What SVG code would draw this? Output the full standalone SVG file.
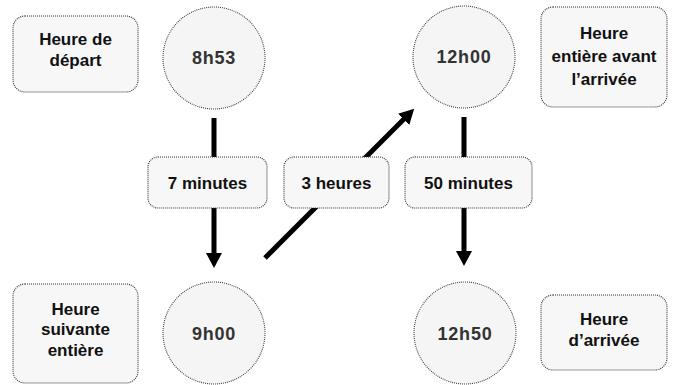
<svg xmlns="http://www.w3.org/2000/svg" width="688" height="385" viewBox="0 0 688 385">
<style>
.box{fill:#f7f7f7;stroke:#333;stroke-width:1.1;stroke-dasharray:1 1}
.circ{fill:#f5f5f5;stroke:#444;stroke-width:1.1;stroke-dasharray:1 1}
.t{font-family:"Liberation Sans",Arial,sans-serif;font-weight:bold;font-size:17px;fill:#111;text-anchor:middle}
.ct{font-family:"Liberation Sans",Arial,sans-serif;font-weight:bold;font-size:18px;fill:#333;text-anchor:middle;letter-spacing:0.8px}
.arr{stroke:#000;stroke-width:5;fill:none;marker-end:url(#ah)}
</style>
<defs>
<marker id="ah" markerUnits="userSpaceOnUse" markerWidth="16" markerHeight="16" refX="2" refY="8" orient="auto">
<path d="M0,0 L15,8 L0,16 z" fill="#000"/>
</marker>
</defs>
<rect width="688" height="385" fill="#fff"/>
<g id="connectors">
<path class="arr" d="M214,118 V255"/>
<path class="arr" d="M265,258 L405,118"/>
<path class="arr" d="M464,117 V253"/>
<g id="lbl-7min"><rect class="box" x="148" y="157" width="119" height="51" rx="10"/><text class="t" x="207.5" y="189">7 minutes</text></g>
<g id="lbl-3h"><rect class="box" x="284" y="157" width="105" height="51" rx="10"/><text class="t" x="336.5" y="189">3 heures</text></g>
<g id="lbl-50min"><rect class="box" x="405" y="157" width="127" height="51" rx="10"/><text class="t" x="468.5" y="189">50 minutes</text></g>
</g>
<g id="n-depart-label"><rect class="box" x="13" y="16" width="125" height="76" rx="12"/><text class="t" x="75.5" y="45">Heure de</text><text class="t" x="75.5" y="66">départ</text></g>
<g id="n-853"><circle class="circ" cx="214" cy="58" r="51"/><text class="ct" x="214" y="64">8h53</text></g>
<g id="n-1200"><circle class="circ" cx="464" cy="57" r="51"/><text class="ct" x="464" y="63">12h00</text></g>
<g id="n-avant-label"><rect class="box" x="541" y="7" width="126" height="100" rx="12"/><text class="t" x="604" y="39">Heure</text><text class="t" x="604" y="62">entière avant</text><text class="t" x="604" y="85">l’arrivée</text></g>
<g id="n-suivante-label"><rect class="box" x="13" y="284" width="125" height="99" rx="12"/><text class="t" x="75.5" y="315">Heure</text><text class="t" x="75.5" y="335">suivante</text><text class="t" x="75.5" y="356">entière</text></g>
<g id="n-900"><circle class="circ" cx="214" cy="333" r="51"/><text class="ct" x="214" y="340">9h00</text></g>
<g id="n-1250"><circle class="circ" cx="465" cy="333" r="51"/><text class="ct" x="465" y="340">12h50</text></g>
<g id="n-arrivee-label"><rect class="box" x="541" y="295" width="126" height="75" rx="12"/><text class="t" x="604" y="325">Heure</text><text class="t" x="604" y="346">d’arrivée</text></g>
</svg>
